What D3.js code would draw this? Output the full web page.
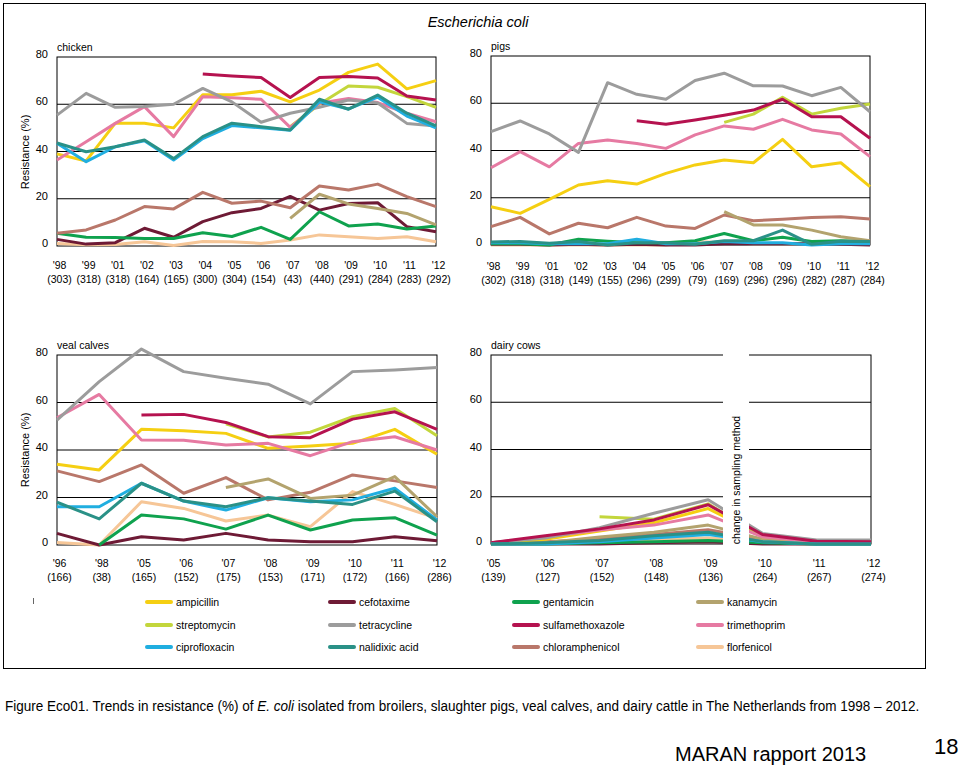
<!DOCTYPE html>
<html><head><meta charset="utf-8">
<script src="https://cdn.jsdelivr.net/npm/d3@7"></script>
<style>
body{margin:0;background:#fff}
svg{display:block}
text{font-family:"Liberation Sans Narrow","Liberation Sans",Arial,sans-serif;fill:#000}
</style>
</head><body>
<svg id="c" width="960" height="767"></svg>
<script>
// ---------- data ----------
const drugs = ["ampicillin","cefotaxime","gentamicin","kanamycin",
               "streptomycin","tetracycline","sulfamethoxazole","trimethoprim",
               "ciprofloxacin","nalidixic acid","chloramphenicol","florfenicol"];
const drugColors = ["#F5CF12","#6E1A35","#0FA24E","#B3A36E",
                    "#C3D63C","#9C9C9C","#B5124F","#E67AA2",
                    "#20AEE0","#2A9187","#B9776A","#F6C697"];
const yTicks = [0,20,40,60,80];

const chickenYears = ["'98","'99","'01","'02","'03","'04","'05","'06","'07","'08","'09","'10","'11","'12"];
const chickenN = [303,318,318,164,165,300,304,154,43,440,291,284,283,292];
const chickenValues = [
  [39,36,52,52,50,64,64,65.5,61,66,73.5,77,66.5,70],
  [2.8,0.8,1.4,7.5,3.7,10.3,14.1,15.9,21,15.2,18,18.3,8.2,6],
  [5.4,3.7,3.6,3.2,3.2,5.6,4,7.9,2.8,14.5,8.5,9.3,7.2,8.5],
  [null,null,null,null,null,null,null,null,11.7,21.9,17.8,15.9,13.8,8.9],
  [null,null,null,null,null,null,null,null,50.5,60,67.7,67.2,63.2,58.7],
  [55.4,64.6,58.7,59,60,66.7,61,52.4,56.2,58.7,61.8,60.5,51.9,50.8],
  [null,null,null,null,null,72.8,72,71.3,62.9,71.3,71.7,71.1,63.5,61.8],
  [36.4,44.1,51.9,59,46.3,63.2,62.8,62.1,50.2,60.4,62.4,60.7,56.2,52.6],
  [43.5,35.7,42,44.5,36.4,45.5,51,50,49,61,58,63,55,50],
  [43.6,39.9,42,44.9,37,46.3,52,50.5,49.1,62.1,57.9,63.9,56.2,50.8],
  [5.4,6.8,11,16.7,15.7,22.7,18.1,19,16.2,25.4,23.7,26.2,20.9,16.7],
  [1.1,0.5,0.6,1.8,0.2,1.9,1.8,1.1,2.5,4.7,3.9,3.2,3.9,1.8]
];

const pigsYears = ["'98","'99","'01","'02","'03","'04","'05","'06","'07","'08","'09","'10","'11","'12"];
const pigsN = [302,318,318,149,155,296,299,79,169,296,296,282,287,284];
const pigsValues = [
  [16.2,13.4,19.3,25.4,27.2,25.8,30.3,33.9,36,34.8,44.7,33.1,34.8,24.7],
  [0.3,0.3,0,0.3,0,0.3,0,0,0.5,0.5,0.5,0.5,0.3,0],
  [0.5,0.5,0,2.4,1.6,1,1,1.8,4.9,1.8,3.3,1.5,1.8,1.5],
  [null,null,null,null,null,null,null,null,14.1,8.5,8.5,6.3,3.5,1.8],
  [null,null,null,null,null,null,null,null,51.9,55.4,62.5,55.4,57.9,59.7],
  [48,52.5,47,39.2,68.7,63.8,61.7,69.6,72.7,67.4,67.3,63.2,66.7,56.4],
  [null,null,null,null,null,52.6,51.1,52.9,54.9,57.1,61.7,54.3,54.3,45.2],
  [32.7,39.5,33.1,43,44.4,43,40.9,46.6,50.4,49,53.2,48.7,47,37.4],
  [1,1,0.5,0.5,0.5,2.4,0.5,0.5,1.5,1,1,0,0.5,0.5],
  [1.3,1.5,0.7,1.5,0,1,1,0.3,1.8,1.8,6.3,0.3,1.6,1.5],
  [7.8,11.7,4.7,9.2,7.3,11.7,8,7,12.7,10.3,10.9,11.6,12,11],
  [0,0,0,0,0,0,0,1.5,1,0.5,0.5,0.5,0.5,1]
];

const vealYears = ["'96","'98","'05","'06","'07","'08","'09","'10","'11","'12"];
const vealN = [166,38,165,152,175,153,171,172,166,286];
const vealValues = [
  [34,31.6,48.7,48.1,47,40.7,41.7,42.8,48.7,38.2],
  [4.9,0,3.5,2.1,4.9,2.1,1.4,1.4,3.5,1.8],
  [null,0,12.6,11,6.7,12.6,6.3,10.5,11.5,4.2],
  [null,null,null,null,24.2,27.8,19.6,21,28.8,11.9],
  [null,null,null,null,51,45.5,47.5,54,57.5,46],
  [52.6,68.8,82.5,73,70.2,67.7,59.4,73,73.7,74.7],
  [null,null,54.7,55,51.6,45.6,45.2,53,56.1,48.7],
  [53.6,63.4,44.2,44.1,42.1,42.8,37.6,43.5,45.6,40],
  [16.1,16.1,26,18.5,14.7,19.9,18.2,19,23.9,10.5],
  [18,11,26,18.5,16.1,19.9,18.5,17.1,22.7,9.8],
  [31.2,26.7,33.7,21.8,28.4,19,22.2,29.5,27,24.2],
  [1.1,0,18.2,15.4,10.1,12.6,7.7,22.5,17.1,11.2]
];

const dairyYears = ["'05","'06","'07","'08","'09","'10","'11","'12"];
const dairyN = [139,127,152,148,136,264,267,274];
const dairyValues = [
  [0.5,2,5.5,9,15,3.5,1,1],
  [0,0,0,0.5,1,0,0,0],
  [0,0,0.5,1,1.5,0.5,0,0],
  [0,0.5,3,5,8,2,0.5,0.5],
  [null,null,11.5,10.5,17,3,1,1],
  [0.5,2.5,6.9,13,18.7,4.5,1.7,1.7],
  [0.5,3.5,6.4,10.2,16.6,4,1.2,1],
  [0.5,3,5.9,8,12.3,3,1,1],
  [0,0,1,2.5,4,1,0,0],
  [0,0.5,1.5,3.5,5,1,0,0],
  [0,1,2,4,6,2,0.5,0.5],
  [0.5,1,1.5,2,2.5,1,0.5,0.5]
];

// draw order (indices into drugs)
const drawOrder = [11,1,2,10,3,0,4,7,5,6,8,9];

// ---------- drawing ----------
const svg = d3.select("#c");

svg.append("rect").attr("x",3.5).attr("y",3.5).attr("width",922).attr("height",665)
  .attr("fill","none").attr("stroke","#000").attr("stroke-width",1);

svg.append("text").attr("x",478).attr("y",27).attr("text-anchor","middle")
  .style("font-family","'Liberation Sans',Arial,sans-serif")
  .attr("font-size",14.5).attr("font-style","italic").text("Escherichia coli");

function panel(cfg){
  const x = d3.scalePoint().domain(cfg.years).range([cfg.left,cfg.right]).padding(0);
  const y = d3.scaleLinear().domain([0,80]).range([cfg.y0,cfg.y80]);
  const g = svg.append("g");

  g.selectAll("line.grid").data([20,40,60]).join("line")
    .attr("x1",cfg.left).attr("x2",cfg.right)
    .attr("y1",d=>y(d)).attr("y2",d=>y(d))
    .attr("stroke","#000").attr("stroke-width",1);
  g.append("rect").attr("x",cfg.left).attr("y",y(80))
    .attr("width",cfg.right-cfg.left).attr("height",y(0)-y(80))
    .attr("fill","none").attr("stroke","#000").attr("stroke-width",1);

  const line = d3.line().defined(d=>d[1]!=null).x(d=>x(d[0])).y(d=>y(d[1]));
  drawOrder.forEach(i=>{
    g.append("path")
      .datum(cfg.years.map((yr,j)=>[yr,cfg.values[i][j]]))
      .attr("d",line).attr("fill","none")
      .attr("stroke",drugColors[i]).attr("stroke-width",3)
      .attr("stroke-linejoin","round");
  });

  const ay = g.append("g").attr("transform",`translate(${cfg.left},-3)`)
    .call(d3.axisLeft(y).tickValues(yTicks).tickSize(0).tickPadding(9));
  ay.select(".domain").remove();
  ay.selectAll("text").attr("font-size",11).style("font-family","'Liberation Sans',Arial,sans-serif");

  const ax = g.append("g").attr("transform",`translate(2,${cfg.labelY})`)
    .call(d3.axisBottom(x).tickSize(0).tickPadding(0));
  ax.select(".domain").remove();
  ax.selectAll(".tick text").each(function(d,i){
    const t = d3.select(this).text(null).attr("font-size",10.5).attr("dy",0).attr("y",0);
    t.append("tspan").attr("x",0).attr("y",0).text(d);
    t.append("tspan").attr("x",0).attr("y",14).text("("+cfg.n[i]+")");
  });

  g.append("text").attr("x",cfg.left).attr("y",y(80)-6).attr("font-size",10.5).text(cfg.title);

  if(cfg.ytitle){
    g.append("text").attr("transform",`translate(29,${cfg.ytitleY}) rotate(-90)`)
      .attr("text-anchor","middle").attr("font-size",11).text("Resistance  (%)");
  }
  return {x,y,g};
}

panel({years:chickenYears,n:chickenN,values:chickenValues,left:57,right:436,y0:246,y80:57,labelY:269,title:"chicken",ytitle:true,ytitleY:152});
panel({years:pigsYears,n:pigsN,values:pigsValues,left:491,right:870,y0:245,y80:56,labelY:270,title:"pigs"});
panel({years:vealYears,n:vealN,values:vealValues,left:57,right:437,y0:545,y80:355,labelY:567,title:"veal calves",ytitle:true,ytitleY:450});
const dairy = panel({years:dairyYears,n:dairyN,values:dairyValues,left:491,right:871,y0:544,y80:355,labelY:567,title:"dairy cows"});

dairy.g.append("rect").attr("x",723).attr("y",349).attr("width",26).attr("height",200).attr("fill","#fff");
dairy.g.append("text").attr("transform","translate(740,480) rotate(-90)")
  .attr("text-anchor","middle").attr("font-size",10.5).text("change in sampling method");

svg.append("line").attr("x1",33.5).attr("x2",33.5).attr("y1",598).attr("y2",604).attr("stroke","#666");

// legend
const legCols = [147,330,514,698];
const legRows = [602,625,647];
const leg = svg.append("g").selectAll("g").data(drugs).join("g")
  .attr("transform",(d,i)=>`translate(${legCols[i%4]},${legRows[Math.floor(i/4)]})`);
leg.append("line").attr("x1",0).attr("x2",24).attr("stroke",(d,i)=>drugColors[i])
  .attr("stroke-width",4).attr("stroke-linecap","round");
leg.append("text").attr("x",29).attr("dy","0.35em").attr("font-size",10.5).text(d=>d);

// caption (condensed to the reference width)
const cap = svg.append("text").attr("x",0).attr("y",0).attr("font-size",15);
cap.append("tspan").text("Figure Eco01. Trends in resistance (%) of ");
cap.append("tspan").attr("font-style","italic").text("E. coli");
cap.append("tspan").text(" isolated from broilers, slaughter pigs, veal calves, and dairy cattle in The Netherlands from 1998 \u2013 2012.");
const capW = cap.node().getComputedTextLength();
cap.attr("transform",`translate(5,711) scale(${915/capW},1)`);

svg.append("text").attr("x",675).attr("y",761).attr("font-size",20)
  .style("font-family","'Liberation Sans',Arial,sans-serif").text("MARAN rapport 2013");
svg.append("text").attr("x",934).attr("y",754).attr("font-size",22)
  .style("font-family","'Liberation Sans',Arial,sans-serif").text("18");
</script>
</body></html>
